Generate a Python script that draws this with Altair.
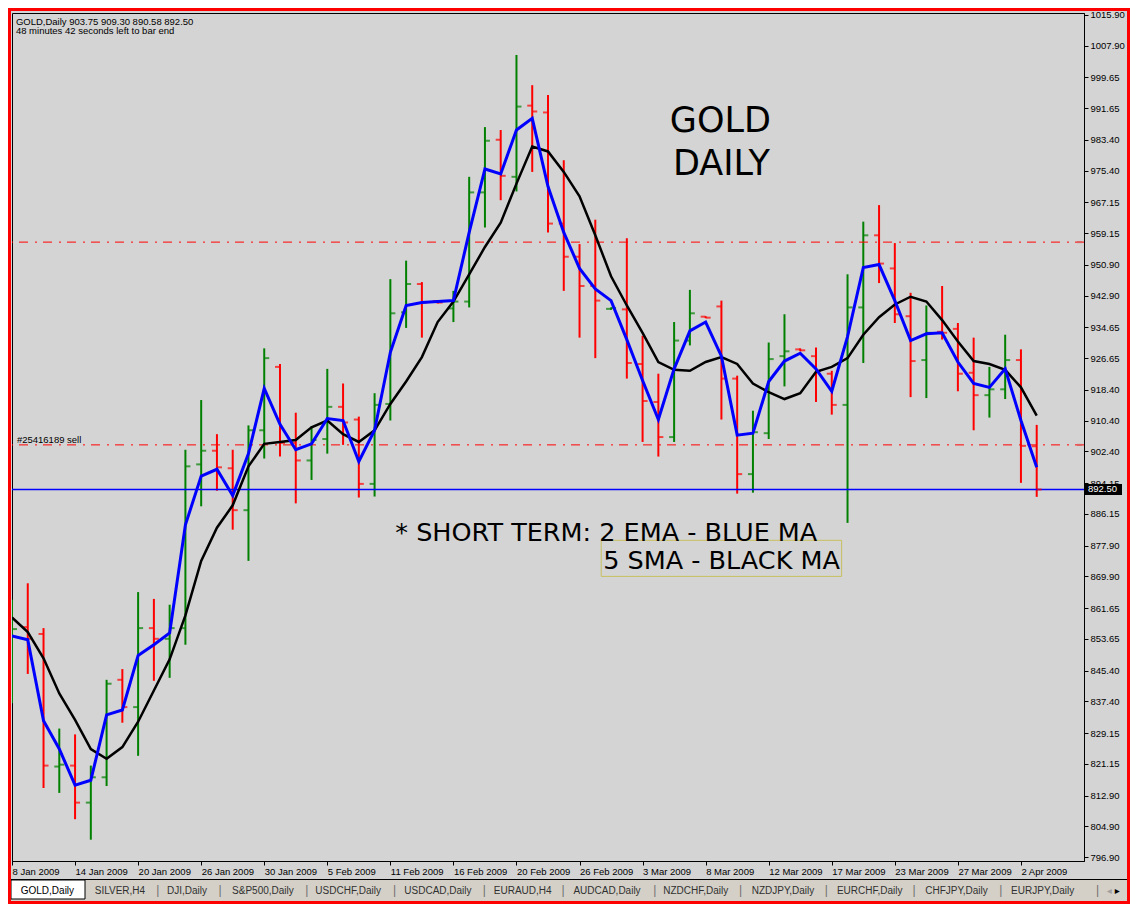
import json
import altair as alt
import pandas as pd

# ---------------- data ----------------
tick_labels = ["8 Jan 2009", "14 Jan 2009", "20 Jan 2009", "26 Jan 2009", "30 Jan 2009",
               "5 Feb 2009", "11 Feb 2009", "16 Feb 2009", "20 Feb 2009", "26 Feb 2009",
               "3 Mar 2009", "8 Mar 2009", "12 Mar 2009", "17 Mar 2009", "23 Mar 2009",
               "27 Mar 2009", "2 Apr 2009"]

price_ticks = [1015.90, 1007.90, 999.65, 991.65, 983.40, 975.40, 967.15, 959.15, 950.90, 942.90,
               934.65, 926.65, 918.40, 910.40, 902.40, 894.15, 886.15, 877.90, 869.90, 861.65,
               853.65, 845.40, 837.40, 829.15, 821.15, 812.90, 804.90, 796.90]

opens = [840.23, 856.71, 854.93, 820.45, 820.70, 811.07, 817.66, 843.01, 835.91, 856.45,
         853.67, 856.45, 899.03, 902.58, 898.02, 887.12, 907.90, 924.38, 904.61, 900.05,
         905.62, 913.99, 910.69, 893.96, 914.75, 938.58, 945.93, 941.49, 939.59, 941.37,
         969.76, 983.45, 973.81, 992.32, 990.55, 961.65, 953.03, 945.42, 939.47, 939.34,
         925.14, 915.26, 906.13, 931.23, 937.44, 940.10, 921.34, 896.50, 907.14, 927.17,
         928.94, 927.17, 922.61, 914.50, 939.85, 958.60, 949.99, 937.56, 926.16, 933.51,
         934.27, 922.86, 917.03, 918.55, 926.16, 903.75]

highs = [863.81, 868.11, 856.45, 830.33, 828.81, 820.70, 843.01, 845.80, 865.82, 864.05,
         862.53, 902.83, 915.76, 906.89, 902.83, 909.17, 929.20, 925.14, 912.47, 908.92,
         923.87, 920.07, 911.45, 917.54, 947.20, 952.01, 946.44, 941.75, 944.15, 973.81,
         986.74, 985.98, 1005.50, 997.64, 995.11, 978.12, 956.32, 962.66, 939.85, 957.84,
         932.49, 922.61, 936.04, 944.41, 937.56, 941.62, 922.10, 912.98, 930.72, 938.07,
         929.20, 929.45, 923.37, 948.46, 962.15, 966.46, 956.58, 943.65, 940.35, 945.42,
         935.79, 931.99, 924.38, 932.75, 928.94, 909.30]

lows = [836.93, 844.54, 814.87, 813.60, 806.76, 801.43, 815.38, 831.85, 823.24, 842.75,
        843.52, 852.13, 888.13, 892.19, 882.05, 873.94, 900.55, 901.06, 888.89, 894.98,
        901.82, 904.10, 890.41, 890.67, 910.44, 934.52, 931.99, 940.86, 936.04, 939.85,
        960.63, 967.73, 970.01, 975.08, 959.36, 944.15, 931.99, 926.66, 939.21, 921.34,
        904.86, 901.06, 904.86, 929.96, 937.06, 910.69, 891.43, 891.68, 905.62, 919.31,
        928.44, 915.26, 911.96, 883.82, 925.40, 946.18, 935.79, 916.52, 916.27, 931.48,
        918.04, 907.90, 911.20, 916.02, 894.22, 890.58]

closes = [856.20, 853.67, 820.70, 820.95, 811.07, 817.66, 841.99, 835.91, 856.45, 853.67,
          856.45, 898.52, 902.58, 898.27, 887.12, 907.90, 926.66, 904.61, 900.05, 905.37,
          913.99, 909.93, 893.96, 914.50, 938.32, 945.93, 941.11, 941.11, 941.37, 969.76,
          983.19, 974.07, 992.07, 990.80, 961.65, 953.03, 945.42, 941.62, 939.72, 925.40,
          915.51, 906.13, 931.23, 938.32, 937.18, 921.34, 896.50, 907.40, 926.41, 928.44,
          928.69, 923.37, 914.50, 939.85, 958.60, 951.25, 938.07, 925.90, 933.25, 933.25,
          922.61, 917.03, 918.55, 926.16, 903.85, 892.50]

ema2 = [854.42, 853.40, 832.36, 825.01, 815.63, 816.90, 833.88, 835.15, 849.35, 852.13,
        855.18, 883.31, 895.99, 897.76, 890.92, 901.82, 918.80, 909.43, 902.83, 904.36,
        910.95, 910.44, 899.79, 907.90, 928.18, 940.35, 941.11, 941.37, 941.62, 959.36,
        975.84, 974.57, 985.98, 989.02, 971.28, 959.36, 949.99, 944.66, 941.62, 931.48,
        920.83, 910.69, 923.87, 933.76, 936.04, 927.17, 906.64, 907.14, 920.58, 925.90,
        927.93, 923.87, 918.04, 932.24, 950.24, 951.00, 941.62, 931.23, 933.00, 933.25,
        925.65, 920.07, 919.06, 923.87, 910.44, 898.27]

sma5 = [859.23, 855.43, 848.59, 839.46, 832.61, 825.01, 822.47, 825.52, 832.11, 840.22,
        848.33, 859.74, 873.94, 882.55, 888.38, 898.52, 904.36, 904.86, 905.37, 908.66,
        910.44, 906.89, 904.86, 907.90, 914.75, 920.58, 926.92, 936.04, 941.37, 948.46,
        955.56, 961.90, 972.04, 981.67, 980.41, 975.08, 968.74, 958.60, 947.96, 940.35,
        933.25, 925.65, 923.62, 923.37, 925.65, 926.92, 925.14, 920.07, 917.79, 916.02,
        917.54, 923.11, 924.38, 926.66, 932.75, 937.31, 940.61, 942.63, 941.37, 936.55,
        930.97, 925.90, 925.14, 923.62, 919.06, 911.71]

sell_levels = [956.83, 904.10]
bid_level = [892.50]

tab_names = ["GOLD,Daily", "SILVER,H4", "DJI,Daily", "S&P500,Daily", "USDCHF,Daily",
             "USDCAD,Daily", "EURAUD,H4", "AUDCAD,Daily", "NZDCHF,Daily", "NZDJPY,Daily",
             "EURCHF,Daily", "CHFJPY,Daily", "EURJPY,Daily"]

# ---------------- layout / style ----------------
W, H = 1072, 848
BG = "#D4D4D4"
GREEN = "#008000"
RED = "#FF0000"
BLUE = "#0000FF"
FONT = "Liberation Sans"
COMIC = "DejaVu Sans"

tab_x = [35.4, 107.9, 175.0, 250.9, 336.1, 425.9, 510.7, 595.0, 683.7, 771.0, 857.7, 944.5, 1030.7]
sep_x = [145.9, 208.0, 294.7, 382.5, 472.2, 551.1, 642.8, 728.6, 814.3, 902.1, 988.8, 1085.5]

df = pd.DataFrame({"i": list(range(len(closes))), "open": opens, "high": highs,
                   "low": lows, "close": closes, "ema": ema2, "sma": sma5})
one = pd.DataFrame({"k": [0]})

xs = alt.Scale(domain=[0, 68], nice=False, zero=False)
ys = alt.Scale(domain=[795.89, 1016.41], nice=False, zero=False)

label_expr = json.dumps(tick_labels) + "[round(datum.value / 4)]"
x_axis = alt.Axis(values=list(range(0, 4 * len(tick_labels), 4)), labelExpr=label_expr,
                  labelAlign="left", labelBaseline="top", labelPadding=1, tickSize=4,
                  tickColor="black", domainColor="black", labelColor="black",
                  labelFont=FONT, labelFontSize=9.5, labelFlush=False, labelOverlap=False,
                  grid=False, title=None)
y_axis = alt.Axis(orient="right", values=price_ticks, format=".2f", tickSize=4,
                  tickColor="black", domainColor="black", labelColor="black",
                  labelFont=FONT, labelFontSize=9.5, labelPadding=2, labelFlush=False,
                  labelOverlap=False, grid=False, title=None)


def X(field="i"):
    return alt.X(field + ":Q", scale=xs, axis=x_axis)


def Y(field):
    return alt.Y(field + ":Q", scale=ys, axis=y_axis)


color_cond = alt.condition("datum.close >= datum.open", alt.value(GREEN), alt.value(RED))

base = alt.Chart(df)

# background of tab strip
tabstrip = alt.Chart(one).mark_rect(color="#D4D0C8").encode(
    x=alt.value(-4), x2=alt.value(1118), y=alt.value(866), y2=alt.value(888))
tabline = alt.Chart(one).mark_rule(color="black", strokeWidth=1).encode(
    x=alt.value(-4), x2=alt.value(1118), y=alt.value(866.5))
goldtab = alt.Chart(one).mark_rect(fill="white", stroke="black", strokeWidth=1).encode(
    x=alt.value(-1), x2=alt.value(73), y=alt.value(867), y2=alt.value(886))

lv = pd.DataFrame({"level": sell_levels})
levels = alt.Chart(lv).mark_rule(
    stroke=RED, strokeWidth=1, strokeDash=[9, 6, 2, 7]).encode(y=Y("level"))
level_marks = alt.Chart(lv).mark_rule(stroke="#E06060", strokeWidth=2).encode(
    x=alt.value(W - 7), x2=alt.value(W - 2), y=Y("level"))
bidline = alt.Chart(pd.DataFrame({"level": bid_level})).mark_rule(
    stroke=BLUE, strokeWidth=1.5, opacity=1).encode(y=Y("level"))

hl = base.mark_rule(strokeWidth=2, clip=True).encode(
    x=X(), y=Y("low"), y2="high:Q", color=color_cond)
open_t = base.mark_tick(orient="horizontal", size=5, thickness=2, xOffset=-2.5, clip=True).encode(
    x=X(), y=Y("open"), color=color_cond)
close_t = base.mark_tick(orient="horizontal", size=5, thickness=2, xOffset=2.5, clip=True).encode(
    x=X(), y=Y("close"), color=color_cond)

sma_line = base.mark_line(stroke="black", strokeWidth=2.5, clip=True).encode(x=X(), y=Y("sma"))
ema_line = base.mark_line(stroke=BLUE, strokeWidth=3, clip=True).encode(x=X(), y=Y("ema"))


def txt(s, x, y, size, font=FONT, color="black", align="left", baseline="alphabetic"):
    return alt.Chart(one).mark_text(text=s, font=font, fontSize=size, color=color,
                                    align=align, baseline=baseline).encode(
        x=alt.value(x), y=alt.value(y))


texts = [
    txt("GOLD,Daily  903.75 909.30 890.58 892.50", 3.9, 11.7, 9.5),
    txt("48 minutes 42 seconds left to bar end", 3.9, 21.4, 9.5),
    txt("#25416189 sell", 4.9, 430.3, 9.5),
    txt("GOLD", 708.4, 118.5, 35, font=COMIC, align="center"),
    txt("DAILY", 709.4, 162.0, 35, font=COMIC, align="center"),
    txt("* SHORT TERM: 2 EMA - BLUE MA", 383.3, 528.3, 25.5, font=COMIC),
    txt("5 SMA - BLACK MA", 591.2, 555.6, 25.5, font=COMIC),
]

box = alt.Chart(one).mark_rect(fillOpacity=0, stroke="#C8C060", strokeWidth=1).encode(
    x=alt.value(589.2), x2=alt.value(829.6), y=alt.value(527.3), y2=alt.value(563.4))

pdf = pd.DataFrame({"price": bid_level})
price_box = alt.Chart(pdf).mark_rule(stroke="black", strokeWidth=11).encode(
    x=alt.value(W + 1), x2=alt.value(W + 38), y=Y("price"))
price_txt = alt.Chart(pdf).mark_text(
    color="white", align="left", baseline="middle", font=FONT, fontSize=9.5).encode(
    x=alt.value(W + 4), y=Y("price"), text=alt.Text("price:Q", format=".2f"))

tabs = []
for k, (name, tx) in enumerate(zip(tab_names, tab_x)):
    tabs.append(txt(name, tx, 880.5, 10, color="black" if k == 0 else "#303030", align="center"))
for sx in sep_x:
    tabs.append(txt("|", sx, 881, 12, color="#707070", align="center"))
tabs.append(txt("\u25c2", 1097.3, 880.5, 10, font=COMIC, color="#A0A0A0", align="center"))
tabs.append(txt("\u25b8", 1105.2, 880.5, 10, font=COMIC, color="black", align="center"))

border = alt.Chart(one).mark_rect(fillOpacity=0, stroke=RED, strokeWidth=3).encode(
    x=alt.value(-2.5), x2=alt.value(1116.5), y=alt.value(-3.5), y2=alt.value(889.5))

chart = alt.layer(
    hl, tabstrip, tabline, goldtab, levels, bidline, open_t, close_t, sma_line, ema_line,
    level_marks, box, *texts, price_box, price_txt, *tabs, border
).properties(
    width=W, height=H,
    autosize=alt.AutoSizeParams(type="none"),
    padding={"left": 4, "top": 5, "right": 46, "bottom": 43},
    background=BG,
).configure_view(stroke="black", strokeWidth=1, fill=BG)

chart.save("out.html", embed_options={"renderer": "svg", "actions": False})
